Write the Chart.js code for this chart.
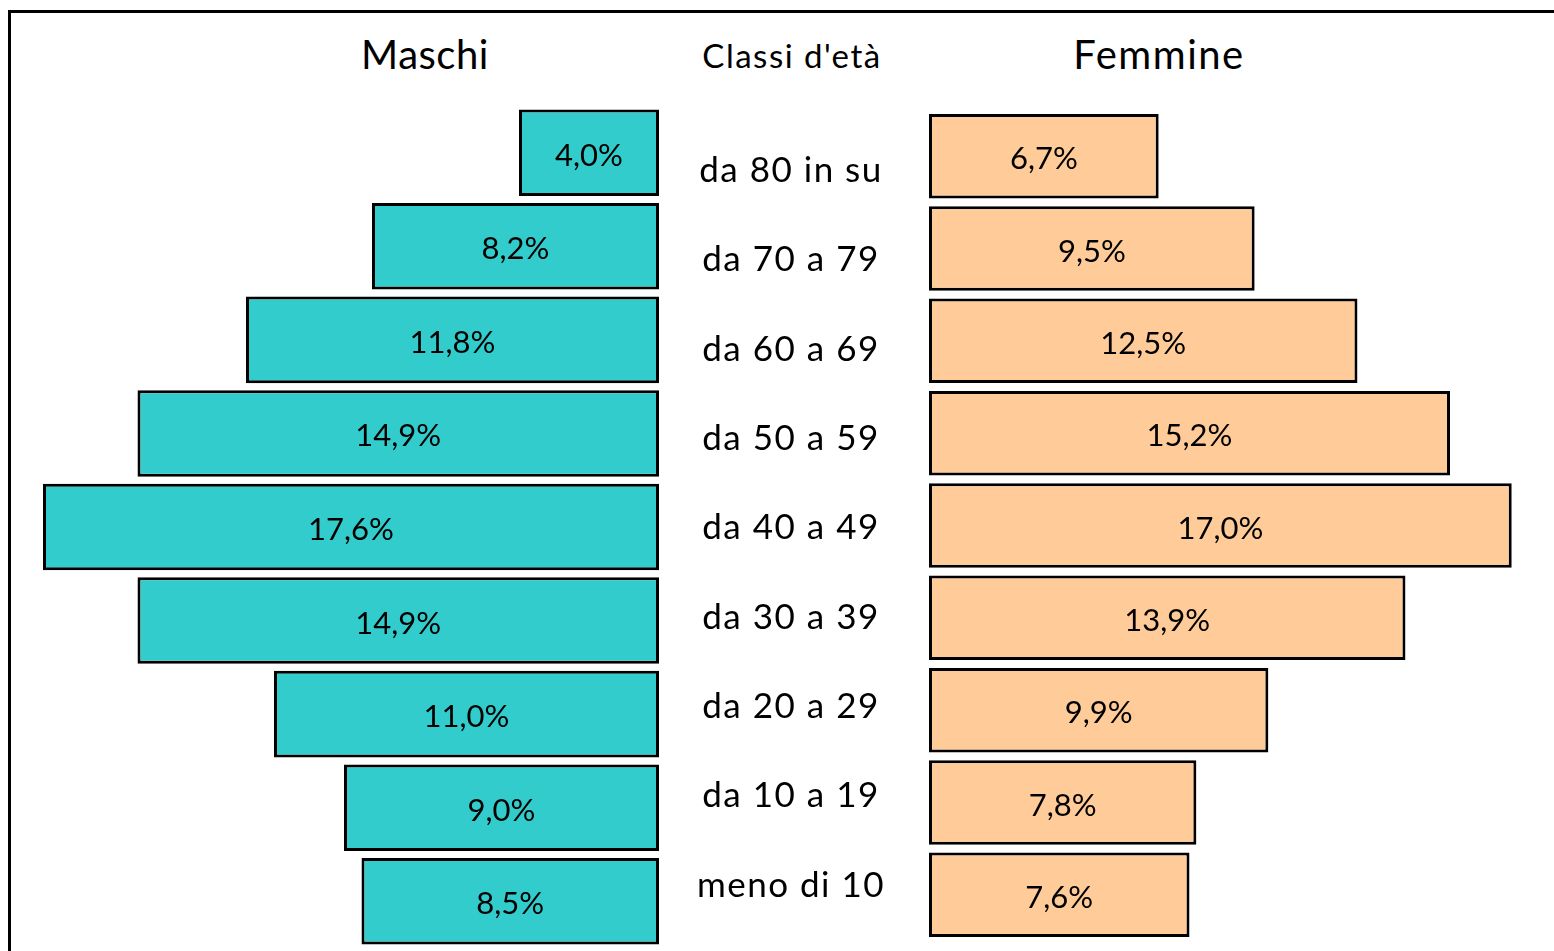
<!DOCTYPE html>
<html>
<head>
<meta charset="utf-8">
<script src="https://cdn.jsdelivr.net/npm/chart.js@4.4.1/dist/chart.umd.min.js"></script>
<style>
  body { margin: 0; background: #fff; width: 1554px; height: 951px; overflow: hidden; position: relative; font-family: Lato, sans-serif; }
  .frame { position: absolute; left: 8px; top: 10px; width: 1600px; height: 1000px; border-top: 3px solid #000; border-left: 3px solid #000; }
  .title { position: absolute; top: 24px; height: 60px; line-height: 60px; text-align: center; color: #000; white-space: nowrap; }
  canvas { position: absolute; }
</style>
</head>
<body>
<div class="frame"></div>
<div class="title" style="left:325px;width:200px;font-size:40px;letter-spacing:0.5px;">Maschi</div>
<div class="title" style="left:661px;width:262px;font-size:33px;letter-spacing:1.5px;top:25px;">Classi d'età</div>
<div class="title" style="left:1059px;width:200px;font-size:40px;letter-spacing:1.5px;">Femmine</div>

<canvas id="maschiCanvas" width="630" height="842" style="left:29px;top:106px;"></canvas>
<canvas id="classiCanvas" width="262" height="804" style="left:660px;top:125px;"></canvas>
<canvas id="femmineCanvas" width="617" height="831" style="left:929px;top:110px;"></canvas>

<script>
const classi = ['da 80 in su', 'da 70 a 79', 'da 60 a 69', 'da 50 a 59', 'da 40 a 49',
                'da 30 a 39', 'da 20 a 29', 'da 10 a 19', 'meno di 10'];
const maschi = [4.0, 8.2, 11.8, 14.9, 17.6, 14.9, 11.0, 9.0, 8.5];
const femmine = [6.7, 9.5, 12.5, 15.2, 17.0, 13.9, 9.9, 7.8, 7.6];

const fmt = v => v.toFixed(1).replace('.', ',') + '%';

// writes the value in the middle of every bar
const valueLabels = {
  id: 'valueLabels',
  afterDatasetsDraw(chart) {
    const ctx = chart.ctx;
    const values = chart.data.datasets[0].data;
    ctx.save();
    ctx.font = '31px Lato, sans-serif';
    ctx.fillStyle = '#000';
    ctx.textAlign = 'center';
    ctx.textBaseline = 'middle';
    chart.getDatasetMeta(0).data.forEach((bar, i) => {
      ctx.fillText(fmt(values[i]), (bar.x + bar.base) / 2, bar.y + 3);
    });
    ctx.restore();
  }
};

function pyramidSide(id, values, color, reverse, barPct) {
  return new Chart(document.getElementById(id).getContext('2d'), {
    type: 'bar',
    data: {
      labels: classi,
      datasets: [{
        data: values,
        backgroundColor: color,
        borderColor: '#000',
        borderWidth: 3,
        borderSkipped: false,
        categoryPercentage: 1,
        barPercentage: barPct
      }]
    },
    options: {
      indexAxis: 'y',
      responsive: false,
      animation: false,
      layout: { padding: 0 },
      scales: {
        x: { type: 'linear', min: 0, max: 18, reverse: reverse, display: false },
        y: { type: 'category', display: false, offset: true }
      },
      plugins: { legend: { display: false }, tooltip: { enabled: false } }
    },
    plugins: [valueLabels]
  });
}

pyramidSide('maschiCanvas', maschi, '#33CCCC', true, 0.925);
pyramidSide('femmineCanvas', femmine, '#FFCC99', false, 0.915);

// age classes in the middle column
const classLabels = {
  id: 'classLabels',
  afterDraw(chart) {
    const ctx = chart.ctx;
    const y = chart.scales.y;
    const cx = (chart.chartArea.left + chart.chartArea.right) / 2;
    ctx.save();
    ctx.font = '35px Lato, sans-serif';
    ctx.fillStyle = '#000';
    ctx.textAlign = 'center';
    ctx.textBaseline = 'middle';
    if ('letterSpacing' in ctx) ctx.letterSpacing = '1.5px';
    chart.data.labels.forEach((lab, i) => {
      ctx.fillText(lab, cx, y.getPixelForValue(i) + 1);
    });
    ctx.restore();
  }
};

new Chart(document.getElementById('classiCanvas').getContext('2d'), {
  type: 'bar',
  data: { labels: classi, datasets: [] },
  options: {
    indexAxis: 'y',
    responsive: false,
    animation: false,
    scales: {
      x: { type: 'linear', display: false },
      y: { type: 'category', display: false, offset: true }
    },
    plugins: { legend: { display: false }, tooltip: { enabled: false } }
  },
  plugins: [classLabels]
});
</script>
</body>
</html>
